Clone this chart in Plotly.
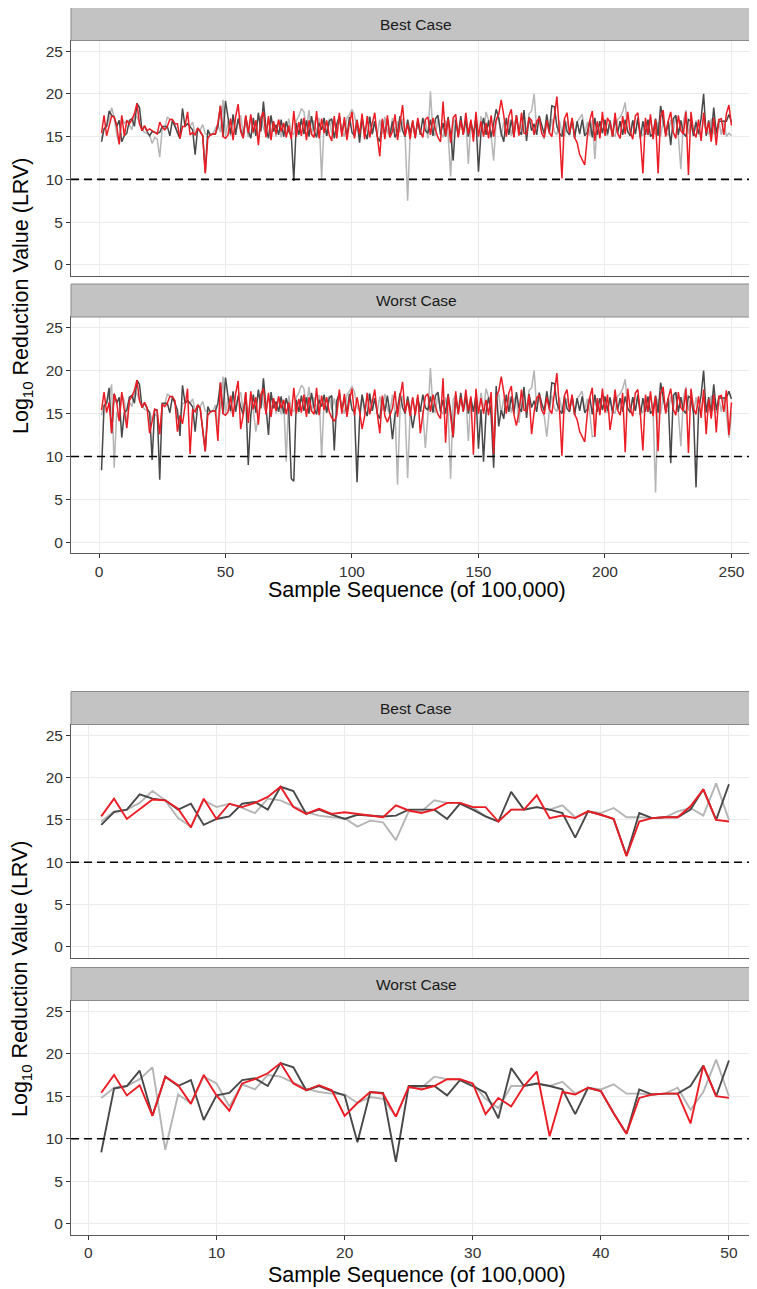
import plotly.graph_objects as go

# ---------------- data ----------------
samples = list(range(1, 251))
n_zoom = 50
facets = ["Best Case", "Worst Case"]
y_ticks = [0, 5, 10, 15, 20, 25]
x_ticks_top = [0, 50, 100, 150, 200, 250]
x_ticks_bottom = [0, 10, 20, 30, 40, 50]
threshold = 10
x_title = "Sample Sequence (of 100,000)"
y_title = "Log<sub>10</sub> Reduction Value (LRV)"

red_best = [
    15.4, 17.5, 15.1, 16.3, 17.4, 17.3, 16.3, 14.1, 17.5, 15.1,
    16.9, 16.5, 17.0, 17.7, 18.9, 16.5, 15.7, 16.3, 15.7, 15.9,
    15.7, 15.5, 15.3, 16.7, 16.1, 15.8, 16.2, 17.0, 17.0, 16.5,
    16.5, 14.8, 16.2, 16.2, 17.9, 15.2, 15.5, 15.2, 16.0, 15.6,
    15.1, 10.7, 14.8, 15.2, 15.3, 15.3, 16.6, 18.6, 15.0, 14.8,
    15.2, 17.1, 14.6, 17.3, 18.8, 15.6, 14.8, 17.5, 15.4, 17.6,
    15.5, 16.9, 14.0, 17.2, 17.9, 14.9, 17.4, 14.6, 16.8, 15.3,
    17.0, 15.6, 16.6, 14.9, 16.3, 14.7, 18.0, 15.0, 16.7, 15.1,
    17.2, 14.6, 16.9, 15.3, 14.9, 18.0, 14.8, 17.1, 15.4, 16.9,
    15.2, 14.5, 17.4, 14.8, 17.8, 15.0, 17.3, 14.6, 16.6, 17.9,
    14.8, 16.9, 15.3, 17.7, 14.7, 17.4, 14.9, 16.5, 17.8, 15.0,
    12.7, 17.1, 14.7, 17.5, 14.9, 15.6, 17.6, 14.6, 16.9, 18.7,
    15.1, 16.5, 14.7, 16.9, 14.8, 17.2, 15.6, 14.9, 17.0, 17.3,
    15.2, 17.2, 15.8, 14.9, 14.4, 19.1, 15.1, 17.1, 14.3, 17.2,
    17.6, 14.9, 16.9, 15.2, 17.8, 15.3, 17.0, 14.4, 17.9, 15.0,
    16.8, 15.0, 16.6, 14.8, 17.5, 15.0, 17.0, 17.6, 19.3, 17.5,
    15.0, 17.4, 18.2, 14.9, 17.5, 15.1, 17.8, 15.4, 15.3, 17.2,
    16.9, 15.2, 16.8, 17.2, 15.4, 14.9, 16.9, 15.5, 15.0, 17.4,
    19.7, 15.6, 10.1, 17.1, 17.8, 15.4, 17.2, 14.9, 14.3, 12.9,
    12.2, 11.7, 14.9, 16.9, 18.0, 14.5, 16.8, 14.8, 17.9, 15.1,
    17.2, 16.6, 15.0, 17.8, 15.4, 14.8, 17.4, 15.3, 17.9, 15.5,
    14.7, 17.4, 17.8, 14.9, 10.7, 17.2, 15.2, 17.6, 14.7, 17.0,
    10.7, 17.3, 18.1, 15.0, 16.8, 17.9, 15.5, 14.8, 17.5, 15.7,
    15.3, 17.9, 10.5, 17.9, 15.6, 14.9, 17.0, 14.5, 17.8, 15.4,
    16.7, 14.4, 17.2, 14.0, 17.0, 17.1, 15.2, 17.7, 18.7, 16.3,
]

dark_best = [
    14.4, 15.9, 16.2, 18.0, 17.5, 17.3, 16.2, 16.9, 14.4, 15.1,
    15.4, 16.9, 17.1, 16.2, 18.9, 18.4, 15.7, 16.2, 15.6, 15.1,
    15.6, 15.5, 15.4, 15.5, 16.2, 16.2, 16.2, 15.1, 16.9, 16.2,
    15.4, 14.8, 18.3, 16.2, 16.5, 16.2, 15.8, 12.9, 16.0, 15.6,
    15.1, 10.8, 15.8, 15.2, 15.3, 15.3, 16.2, 18.6, 15.0, 19.2,
    17.0, 15.3, 17.6, 15.2, 17.1, 15.8, 14.9, 17.4, 15.7, 14.8,
    17.2, 15.1, 17.8, 15.6, 19.1, 16.0, 14.8, 17.5, 15.6, 16.4,
    15.2, 17.0, 15.0, 16.8, 15.6, 15.1, 9.8, 16.6, 15.2, 17.1,
    15.3, 16.9, 15.0, 17.4, 15.7, 14.9, 16.6, 15.8, 17.2, 15.1,
    16.8, 17.1, 14.8, 16.5, 17.4, 15.3, 16.9, 15.0, 17.3, 15.5,
    15.1, 17.0, 14.3, 17.2, 15.6, 14.7, 17.3, 15.3, 16.8, 15.0,
    14.4, 16.9, 15.2, 17.1, 15.0, 16.8, 14.9, 15.6, 17.4, 15.7,
    15.0, 17.0, 15.4, 16.7, 14.9, 16.9, 15.2, 17.2, 15.7, 15.4,
    17.0, 15.1, 17.1, 17.5, 15.2, 16.6, 15.0, 17.3, 15.3, 12.2,
    16.9, 15.1, 17.4, 15.3, 17.0, 15.0, 16.8, 15.2, 17.1, 10.9,
    15.5, 17.2, 15.2, 16.9, 14.9, 16.7, 18.2, 17.2, 15.4, 14.4,
    17.2, 15.2, 17.0, 15.0, 17.5, 15.7, 15.2, 18.1, 14.5, 17.3,
    15.7, 16.5, 15.2, 17.4, 16.2, 15.3, 17.6, 15.6, 18.6, 18.5,
    16.2, 15.4, 15.0, 17.0, 15.6, 15.2, 17.1, 14.8, 16.8, 15.3,
    17.0, 15.1, 15.5, 16.9, 14.9, 17.2, 15.2, 16.8, 15.4, 17.0,
    15.3, 16.9, 15.0, 17.1, 15.4, 16.8, 15.2, 17.0, 15.6, 15.1,
    16.9, 15.3, 17.2, 14.8, 16.8, 15.2, 17.0, 15.0, 15.4, 17.1,
    15.1, 18.6, 16.9, 15.3, 16.8, 14.0, 17.1, 17.5, 15.2, 16.9,
    15.4, 15.0, 17.0, 16.8, 15.1, 16.7, 15.3, 17.1, 20.0, 15.1,
    16.9, 15.1, 18.4, 15.4, 16.8, 16.8, 16.8, 16.8, 17.6, 16.7,
]

light_best = [
    14.8, 16.0, 16.2, 17.0, 18.4, 17.3, 15.2, 14.2, 17.3, 16.5,
    16.9, 16.4, 15.8, 17.5, 17.3, 16.6, 15.9, 15.5, 15.3, 15.2,
    14.2, 14.9, 14.7, 12.6, 16.0, 16.0, 17.3, 17.0, 17.0, 16.5,
    15.4, 14.8, 16.2, 16.2, 16.5, 16.2, 16.7, 15.3, 16.0, 15.8,
    16.4, 15.3, 15.3, 15.2, 15.3, 16.0, 16.4, 15.5, 19.3, 15.0,
    16.8, 15.1, 17.3, 15.4, 16.9, 17.5, 15.2, 16.8, 14.9, 17.2,
    15.3, 16.9, 14.7, 17.4, 16.0, 15.2, 17.1, 15.4, 16.8, 15.0,
    17.0, 14.9, 16.6, 15.3, 17.1, 15.5, 15.2, 16.9, 17.4, 18.3,
    17.9, 15.8, 18.1, 15.2, 16.9, 15.4, 17.2, 10.0, 16.7, 15.1,
    17.1, 15.4, 16.8, 15.2, 17.4, 15.7, 15.0, 17.2, 17.6, 18.2,
    17.5, 15.8, 15.2, 17.1, 15.0, 16.9, 17.4, 15.3, 16.8, 15.2,
    17.0, 15.3, 17.3, 15.6, 14.9, 17.2, 15.4, 16.8, 15.5, 17.1,
    15.2, 7.5, 15.3, 16.9, 15.1, 16.7, 15.5, 15.2, 17.0, 14.8,
    20.3, 15.6, 15.1, 17.3, 15.4, 14.9, 16.9, 15.3, 10.3, 16.6,
    17.2, 15.0, 16.8, 15.3, 17.0, 11.8, 16.7, 15.2, 17.1, 14.9,
    17.4, 15.3, 17.9, 16.9, 15.1, 12.2, 16.8, 17.3, 15.0, 16.7,
    15.3, 17.0, 15.1, 16.6, 17.1, 15.2, 16.8, 17.4, 15.4, 17.7,
    18.0, 20.0, 15.8, 17.5, 15.4, 14.7, 16.7, 15.3, 17.1, 15.6,
    15.2, 16.9, 15.4, 15.1, 16.8, 15.3, 17.0, 15.2, 16.7, 17.2,
    17.6, 15.3, 16.7, 15.1, 16.9, 12.4, 16.6, 15.2, 17.0, 15.4,
    15.1, 16.8, 15.4, 15.0, 17.0, 17.3, 17.9, 19.0, 15.6, 15.2,
    16.9, 15.3, 17.1, 15.4, 15.1, 16.8, 15.2, 17.0, 15.5, 15.3,
    16.7, 15.0, 16.9, 15.4, 15.2, 17.0, 15.5, 17.5, 15.1, 11.2,
    16.8, 18.1, 15.3, 16.7, 15.0, 16.9, 15.4, 15.2, 17.0, 15.5,
    15.3, 17.1, 15.4, 15.1, 16.8, 15.2, 16.9, 15.0, 15.4, 15.1,
]

red_worst = [
    15.4, 17.5, 15.1, 16.3, 12.7, 17.3, 16.3, 14.1, 17.5, 15.1,
    13.3, 16.5, 17.0, 17.7, 18.9, 16.5, 15.7, 16.3, 15.7, 12.7,
    14.2, 15.5, 15.3, 12.6, 16.1, 15.8, 16.2, 17.0, 17.0, 16.5,
    12.9, 14.8, 13.8, 16.2, 17.9, 10.3, 15.5, 15.2, 16.0, 15.6,
    13.0, 10.6, 14.8, 15.2, 15.3, 15.3, 11.8, 18.6, 15.0, 14.8,
    15.2, 17.1, 14.6, 17.3, 18.8, 13.2, 14.8, 17.5, 13.9, 17.6,
    15.5, 16.9, 13.7, 17.2, 17.9, 14.9, 17.4, 14.6, 16.8, 15.3,
    17.0, 15.6, 16.6, 14.9, 16.3, 14.7, 18.0, 15.0, 16.7, 15.1,
    17.2, 14.6, 16.9, 15.3, 14.9, 18.0, 14.8, 17.1, 15.4, 16.9,
    15.2, 14.5, 14.1, 14.8, 17.8, 15.0, 17.3, 14.6, 16.6, 17.9,
    14.8, 16.9, 15.3, 13.2, 14.7, 17.4, 14.9, 16.5, 17.8, 15.0,
    12.7, 17.1, 14.7, 14.0, 14.9, 15.6, 17.6, 14.6, 16.9, 18.7,
    15.1, 16.5, 14.7, 16.9, 14.8, 17.2, 12.7, 14.9, 17.0, 17.3,
    15.2, 17.2, 15.8, 14.9, 14.4, 19.1, 11.6, 17.1, 14.3, 12.3,
    17.6, 14.9, 16.9, 15.2, 17.8, 15.3, 17.0, 10.2, 17.9, 15.0,
    16.8, 15.0, 16.6, 14.8, 17.5, 10.3, 17.0, 17.6, 19.3, 17.5,
    15.0, 17.4, 18.2, 14.9, 13.6, 15.1, 17.8, 15.4, 15.3, 17.2,
    12.6, 15.2, 16.8, 17.2, 15.4, 14.9, 16.9, 15.5, 15.0, 17.4,
    19.7, 15.6, 10.1, 17.1, 17.8, 15.4, 17.2, 14.9, 14.3, 12.9,
    12.2, 11.7, 14.9, 16.9, 18.0, 12.3, 16.8, 14.8, 17.9, 15.1,
    17.2, 13.1, 15.0, 17.8, 15.4, 14.8, 17.4, 10.5, 17.9, 15.5,
    14.7, 17.4, 17.8, 14.9, 10.7, 17.2, 15.2, 17.6, 14.7, 17.0,
    10.6, 17.3, 18.1, 15.0, 16.8, 17.9, 15.5, 14.8, 17.5, 15.7,
    15.3, 17.9, 10.4, 17.9, 15.6, 14.9, 17.0, 14.5, 17.8, 12.6,
    16.7, 14.4, 17.2, 12.8, 17.0, 17.1, 15.2, 17.7, 12.5, 16.3,
]

dark_worst = [
    8.4, 15.9, 16.2, 18.0, 12.7, 17.3, 16.2, 16.9, 12.2, 15.1,
    15.4, 16.9, 17.1, 16.2, 18.9, 18.4, 15.7, 16.2, 15.6, 15.1,
    9.6, 15.5, 15.4, 7.3, 16.2, 16.2, 16.2, 15.1, 16.9, 16.2,
    15.4, 12.4, 18.3, 16.2, 16.5, 16.2, 15.8, 12.9, 16.0, 15.6,
    13.0, 10.6, 15.8, 15.2, 15.3, 15.3, 16.2, 18.6, 15.0, 19.2,
    17.0, 15.3, 17.6, 15.2, 17.1, 15.8, 14.9, 17.4, 9.0, 14.8,
    17.2, 15.1, 17.8, 15.6, 19.1, 16.0, 12.5, 17.5, 15.6, 16.4,
    15.2, 17.0, 15.0, 16.8, 15.6, 7.4, 7.1, 16.6, 15.2, 17.1,
    15.3, 16.9, 15.0, 17.4, 15.7, 14.9, 16.6, 15.8, 17.2, 15.1,
    16.8, 17.1, 10.7, 16.5, 17.4, 15.3, 16.9, 15.0, 17.3, 15.5,
    15.1, 7.0, 14.3, 17.2, 15.6, 14.7, 17.3, 15.3, 16.8, 15.0,
    14.4, 16.9, 15.2, 17.1, 15.0, 12.0, 14.9, 15.6, 17.4, 15.7,
    15.0, 17.0, 15.4, 13.3, 14.9, 16.9, 15.2, 17.2, 15.7, 15.4,
    17.0, 15.1, 17.1, 17.5, 15.2, 16.6, 15.0, 17.3, 15.3, 12.2,
    16.9, 15.1, 17.4, 15.3, 17.0, 15.0, 16.8, 15.2, 17.1, 10.9,
    15.5, 9.4, 15.2, 16.9, 14.9, 8.7, 18.2, 13.5, 15.4, 14.4,
    17.2, 15.2, 17.0, 15.0, 17.5, 15.7, 15.2, 18.1, 14.5, 17.3,
    15.7, 16.5, 15.2, 17.4, 16.2, 15.3, 17.6, 15.6, 18.6, 18.5,
    16.2, 15.4, 15.0, 17.0, 15.6, 15.2, 17.1, 14.8, 16.8, 15.3,
    17.0, 15.1, 15.5, 16.9, 14.9, 17.2, 15.2, 16.8, 15.4, 17.0,
    15.3, 16.9, 15.0, 17.1, 15.4, 16.8, 15.2, 17.0, 15.6, 15.1,
    16.9, 15.3, 17.2, 14.8, 16.8, 15.2, 17.0, 15.0, 15.4, 17.1,
    15.1, 18.6, 16.9, 15.3, 16.8, 9.2, 17.1, 17.5, 15.2, 16.9,
    15.4, 15.0, 17.0, 16.8, 15.1, 6.4, 15.3, 17.1, 20.0, 15.1,
    16.9, 15.1, 18.4, 15.4, 16.8, 16.8, 16.8, 16.8, 17.6, 16.7,
]

light_worst = [
    14.8, 16.0, 16.2, 17.0, 18.4, 8.7, 15.2, 14.2, 17.3, 16.5,
    13.8, 16.4, 15.8, 17.5, 17.3, 16.6, 15.9, 15.5, 15.3, 15.2,
    14.2, 14.9, 14.7, 12.6, 16.0, 16.0, 17.3, 17.0, 17.0, 16.5,
    14.7, 13.6, 16.2, 16.2, 16.5, 16.2, 16.7, 15.3, 16.0, 15.8,
    16.4, 15.3, 15.3, 15.2, 15.3, 16.0, 13.4, 15.5, 19.3, 15.0,
    16.8, 15.1, 17.3, 15.4, 16.9, 17.5, 15.2, 16.8, 14.9, 17.2,
    15.3, 12.9, 14.7, 17.4, 16.0, 15.2, 17.1, 15.4, 16.8, 15.0,
    17.0, 14.9, 16.6, 9.4, 17.1, 15.5, 15.2, 16.9, 17.4, 18.3,
    17.9, 15.8, 18.1, 15.2, 16.9, 15.4, 17.2, 9.8, 16.7, 15.1,
    17.1, 15.4, 16.8, 15.2, 17.4, 15.7, 15.0, 17.2, 17.6, 18.2,
    17.5, 15.8, 15.2, 17.1, 15.0, 16.9, 17.4, 15.3, 16.8, 15.2,
    17.0, 15.3, 17.3, 15.6, 14.9, 17.2, 15.4, 6.7, 15.5, 17.1,
    15.2, 7.5, 15.3, 16.9, 15.1, 16.7, 15.5, 15.2, 11.0, 14.8,
    20.3, 15.6, 15.1, 17.3, 15.4, 14.9, 16.9, 15.3, 7.4, 16.6,
    17.2, 15.0, 16.8, 15.3, 17.0, 11.8, 16.7, 15.2, 17.1, 14.9,
    17.4, 15.3, 17.9, 16.9, 15.1, 12.2, 16.8, 17.3, 15.0, 16.7,
    15.3, 17.0, 15.1, 16.6, 17.1, 13.9, 16.8, 17.4, 15.4, 17.7,
    18.0, 20.0, 15.8, 17.5, 15.4, 14.7, 12.3, 15.3, 17.1, 15.6,
    15.2, 16.9, 15.4, 15.1, 16.8, 15.3, 17.0, 15.2, 16.7, 17.2,
    17.6, 15.3, 16.7, 15.1, 12.3, 12.4, 16.6, 15.2, 17.0, 15.4,
    15.1, 16.8, 15.4, 15.0, 17.0, 17.3, 17.9, 19.0, 15.6, 15.2,
    16.9, 15.3, 17.1, 15.4, 15.1, 16.8, 15.2, 17.0, 15.5, 5.8,
    16.7, 15.0, 16.9, 15.4, 15.2, 17.0, 15.5, 17.5, 15.1, 11.2,
    16.8, 18.1, 15.3, 16.7, 15.0, 16.9, 15.4, 15.2, 17.0, 15.5,
    15.3, 17.1, 15.4, 15.1, 16.8, 15.2, 16.9, 15.0, 12.2, 15.1,
]

# ---------------- styling / layout ----------------
# The page body adds an 8px margin, so the figure is sized/offset to fill
# the 757x1289 window exactly.
OFF = 8
W, H = 757 - OFF, 1289 - OFF
ML = 71 - OFF
FONT = "Liberation Sans, Arial, Helvetica, sans-serif"
C_LIGHT, C_DARK, C_RED = "#b5b5b5", "#484848", "#ec1c24"
GRID = "#ebebeb"
BORDER = "#5a5a5a"


def py(px_abs):
    return 1 - (px_abs - OFF) / H


def pxp(px_abs):
    return (px_abs - 71) / (757 - 71)


# panels: (top px, bottom px, facet index, n points, x range, x ticks, show x labels, line width)
panels = [
    (40.5, 275.5, 0, 250, [-11.07, 260.1], x_ticks_top, False, 1.5),
    (317.0, 553.0, 1, 250, [-11.07, 260.1], x_ticks_top, True, 1.5),
    (724.5, 957.5, 0, n_zoom, [-1.36, 52.19], x_ticks_bottom, False, 1.9),
    (1000.5, 1234.5, 1, n_zoom, [-1.36, 52.19], x_ticks_bottom, True, 1.9),
]
series_by_facet = [
    [(light_best, C_LIGHT), (dark_best, C_DARK), (red_best, C_RED)],
    [(light_worst, C_LIGHT), (dark_worst, C_DARK), (red_worst, C_RED)],
]

fig = go.Figure()
layout = dict(
    width=W, height=H, margin=dict(l=ML, r=0, t=0, b=0),
    paper_bgcolor="white", plot_bgcolor="white", showlegend=False,
    font=dict(family=FONT, color="#333333"),
)
shapes, annotations = [], []

for i, (top, bot, fi, n, xr, xt, showx, lw) in enumerate(panels):
    sfx = "" if i == 0 else str(i + 1)
    xa, ya = "x" + sfx, "y" + sfx
    for vals, col in series_by_facet[fi]:
        fig.add_trace(go.Scatter(
            x=samples[:n], y=vals[:n], mode="lines",
            line=dict(color=col, width=lw),
            xaxis=xa, yaxis=ya, hoverinfo="skip"))
    layout["xaxis" + sfx] = dict(
        domain=[0, 1], anchor=ya, range=xr, tickvals=xt,
        showticklabels=showx, ticks="outside" if showx else "",
        ticklen=4, tickcolor="#333333", tickfont=dict(size=15.5, color="#333333"),
        showgrid=True, gridcolor=GRID, gridwidth=1, zeroline=False,
        showline=True, linecolor=BORDER, linewidth=1, mirror=True,
    )
    layout["yaxis" + sfx] = dict(
        domain=[py(bot), py(top)], anchor=xa, range=[-1.25, 26.25],
        tickvals=y_ticks, ticks="outside", ticklen=4, tickcolor="#333333",
        tickfont=dict(size=15.5, color="#333333"),
        showgrid=True, gridcolor=GRID, gridwidth=1, zeroline=False,
        showline=True, linecolor=BORDER, linewidth=1,
    )
    shapes.append(dict(type="line", xref=xa + " domain", x0=0, x1=1,
                       yref=ya, y0=threshold, y1=threshold, layer="above",
                       line=dict(color="black", width=1.6, dash="8px,5px")))
    shapes.append(dict(type="rect", xref="paper", yref="paper",
                       x0=0, x1=1.01, y0=py(top), y1=py(top - 33),
                       fillcolor="#c3c3c3", line=dict(color="#8c8c8c", width=1),
                       layer="above"))
    annotations.append(dict(text=facets[fi], xref="paper", yref="paper",
                            x=pxp(416), y=py(top - 16.5),
                            showarrow=False, xanchor="center", yanchor="middle",
                            font=dict(size=15.5, color="#1a1a1a", family=FONT)))

for cy, ty in [(296, 590), (979, 1275)]:
    annotations.append(dict(text=y_title, xref="paper", yref="paper",
                            x=pxp(22), y=py(cy), textangle=-90,
                            showarrow=False, xanchor="center", yanchor="middle",
                            font=dict(size=21.5, color="black", family=FONT)))
    annotations.append(dict(text=x_title, xref="paper", yref="paper",
                            x=pxp(416.5), y=py(ty),
                            showarrow=False, xanchor="center", yanchor="middle",
                            font=dict(size=21.5, color="black", family=FONT)))

layout["shapes"] = shapes
layout["annotations"] = annotations
fig.update_layout(**layout)
fig.write_html("out.html")
